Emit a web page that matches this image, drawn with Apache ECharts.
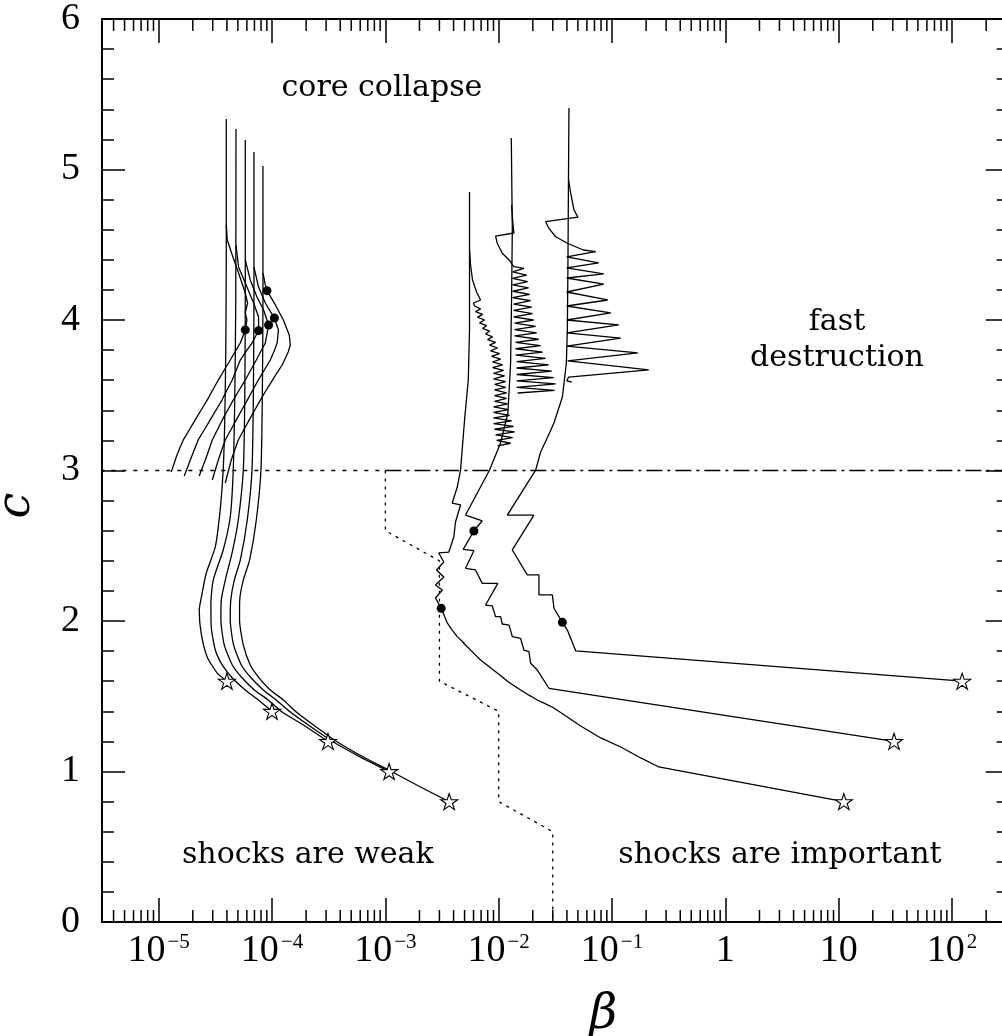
<!DOCTYPE html>
<html>
<head>
<meta charset="utf-8">
<script src="https://cdn.jsdelivr.net/npm/echarts@6/dist/echarts.min.js"></script>
<style>
  html, body { margin: 0; padding: 0; background: #fff; }
  #chart { width: 1002px; height: 1036px; }
</style>
</head>
<body>
<div id="chart"></div>
<script>
// Axis ranges
const BETA_MIN = 3.1623e-6;
const BETA_MAX = 316.23;
const C_MIN = 0;
const C_MAX = 6;

// Minor tick positions on the log beta axis (2..9 of each decade)
const betaMinorTicks = [
  4e-6, 5e-6, 6e-6, 7e-6, 8e-6, 9e-6,
  2e-5, 3e-5, 4e-5, 5e-5, 6e-5, 7e-5, 8e-5, 9e-5,
  2e-4, 3e-4, 4e-4, 5e-4, 6e-4, 7e-4, 8e-4, 9e-4,
  2e-3, 3e-3, 4e-3, 5e-3, 6e-3, 7e-3, 8e-3, 9e-3,
  2e-2, 3e-2, 4e-2, 5e-2, 6e-2, 7e-2, 8e-2, 9e-2,
  0.2, 0.3, 0.4, 0.5, 0.6, 0.7, 0.8, 0.9,
  2, 3, 4, 5, 6, 7, 8, 9,
  20, 30, 40, 50, 60, 70, 80, 90,
  200, 300
];

// Low-beta models: tracks from the starting star up to core collapse  [beta, c]
const trackL1 = [[4.0e-5,1.60],[3.29e-5,1.654],[2.68e-5,1.761],[2.37e-5,1.920],[2.28e-5,2.073],[2.42e-5,2.186],[2.63e-5,2.319],[3.16e-5,2.492],[3.49e-5,2.738],[3.71e-5,3.003],[3.83e-5,3.336],[3.91e-5,3.801],[3.95e-5,4.465],[3.95e-5,5.336]];
const trackL2 = [[1.0e-4,1.40],[7.57e-5,1.475],[5.81e-5,1.542],[4.46e-5,1.621],[3.64e-5,1.708],[3.16e-5,1.807],[2.91e-5,1.960],[2.89e-5,2.120],[3.03e-5,2.272],[3.71e-5,2.472],[4.28e-5,2.691],[4.55e-5,3.003],[4.69e-5,3.468],[4.79e-5,4.133],[4.81e-5,5.269]];
const trackL3 = [[3.12e-4,1.20],[1.89e-4,1.309],[1.23e-4,1.395],[9.27e-5,1.475],[6.98e-5,1.542],[5.47e-5,1.621],[4.46e-5,1.708],[3.79e-5,1.841],[3.54e-5,2.007],[3.57e-5,2.140],[3.87e-5,2.272],[4.46e-5,2.458],[5.04e-5,2.671],[5.58e-5,3.003],[5.75e-5,3.468],[5.81e-5,4.133],[5.81e-5,5.196]];
const trackL4 = [[1.08e-3,1.00],[6.03e-4,1.096],[3.48e-4,1.196],[2.09e-4,1.309],[1.45e-4,1.395],[1.09e-4,1.475],[8.38e-5,1.542],[6.56e-5,1.621],[5.36e-5,1.708],[4.58e-5,1.841],[4.28e-5,2.007],[4.33e-5,2.140],[4.65e-5,2.272],[5.25e-5,2.405],[6.05e-5,2.671],[6.66e-5,3.003],[6.84e-5,3.468],[6.93e-5,4.133],[6.93e-5,5.116]];
const trackL5 = [[3.66e-3,0.80],[2.04e-3,0.897],[1.155e-3,0.997],[6.41e-4,1.096],[3.78e-4,1.196],[2.32e-4,1.309],[1.64e-4,1.395],[1.26e-4,1.475],[9.66e-5,1.542],[7.72e-5,1.621],[6.43e-5,1.708],[5.58e-5,1.841],[5.17e-5,2.007],[5.19e-5,2.140],[5.58e-5,2.272],[6.34e-5,2.405],[7.27e-5,2.671],[7.99e-5,3.003],[8.21e-5,3.468],[8.32e-5,4.133],[8.32e-5,5.023]];

// Low-beta models: wiggly branches down to c = 3
const branchL1 = [[3.95e-5,4.631],[4.03e-5,4.532],[4.46e-5,4.432],[5.07e-5,4.312],[5.81e-5,4.179],[6.09e-5,4.113],[5.81e-5,4.047],[6.01e-5,4.000],[5.81e-5,3.934],[5.25e-5,3.847],
  [4.74e-5,3.791],[4.91e-5,3.781],[4.28e-5,3.734],[3.79e-5,3.668],[3.92e-5,3.658],[3.36e-5,3.601],[3.00e-5,3.535],[3.11e-5,3.525],
  [2.68e-5,3.468],[2.37e-5,3.402],[2.45e-5,3.392],[2.10e-5,3.336],[1.86e-5,3.269],[1.93e-5,3.259],[1.65e-5,3.203],
  [1.53e-5,3.146],[1.58e-5,3.136],[1.43e-5,3.090],[1.36e-5,3.040],[1.41e-5,3.030],[1.29e-5,2.990]];
const branchL2 = [[4.81e-5,4.498],[5.07e-5,4.352],[6.01e-5,4.219],[6.88e-5,4.113],[7.61e-5,4.020],[7.61e-5,3.929],[6.66e-5,3.847],
  [5.90e-5,3.791],[6.11e-5,3.781],[5.25e-5,3.734],[4.84e-5,3.668],[5.01e-5,3.658],[4.46e-5,3.601],[4.01e-5,3.535],[4.15e-5,3.525],
  [3.62e-5,3.468],[3.21e-5,3.402],[3.32e-5,3.392],[2.85e-5,3.336],[2.52e-5,3.269],[2.61e-5,3.259],[2.23e-5,3.203],
  [2.06e-5,3.136],[2.13e-5,3.126],[1.90e-5,3.070],[1.79e-5,3.017],[1.85e-5,3.007],[1.68e-5,2.963]];
const branchL3 = [[5.81e-5,4.399],[6.43e-5,4.266],[7.37e-5,4.153],[8.43e-5,4.066],[9.33e-5,3.967],[8.73e-5,3.847],
  [7.96e-5,3.791],[8.24e-5,3.781],[7.27e-5,3.734],[6.50e-5,3.668],[6.73e-5,3.658],[5.81e-5,3.601],[5.14e-5,3.535],[5.32e-5,3.525],
  [4.55e-5,3.468],[4.07e-5,3.402],[4.21e-5,3.392],[3.64e-5,3.336],[3.29e-5,3.269],[3.41e-5,3.259],[2.97e-5,3.203],
  [2.77e-5,3.136],[2.87e-5,3.126],[2.58e-5,3.070],[2.42e-5,3.017],[2.50e-5,3.007],[2.28e-5,2.963]];
const branchL4 = [[6.93e-5,4.352],[7.61e-5,4.219],[8.73e-5,4.113],[1.05e-4,4.013],[1.14e-4,3.934],[1.11e-4,3.847],
  [1.04e-4,3.791],[1.08e-4,3.781],[9.66e-5,3.734],[8.55e-5,3.668],[8.85e-5,3.658],[7.57e-5,3.601],[6.77e-5,3.535],[7.01e-5,3.525],
  [6.05e-5,3.468],[5.41e-5,3.402],[5.60e-5,3.392],[4.84e-5,3.336],[4.33e-5,3.269],[4.48e-5,3.259],[3.87e-5,3.203],
  [3.60e-5,3.136],[3.73e-5,3.126],[3.36e-5,3.070],[3.16e-5,3.003],[3.27e-5,2.993],[2.97e-5,2.937]];
const branchL5 = [[8.33e-5,4.312],[8.73e-5,4.233],[9.03e-5,4.195],[1.07e-4,4.100],[1.26e-4,4.000],[1.42e-4,3.900],[1.45e-4,3.834],[1.39e-4,3.787],[1.23e-4,3.701],
  [1.11e-4,3.651],[1.15e-4,3.641],[1.01e-4,3.601],[8.91e-5,3.535],[9.22e-5,3.525],[7.88e-5,3.468],[7.05e-5,3.402],[7.30e-5,3.392],
  [6.30e-5,3.336],[5.63e-5,3.269],[5.83e-5,3.259],[5.04e-5,3.203],[4.69e-5,3.136],[4.85e-5,3.126],[4.37e-5,3.070],
  [4.11e-5,2.993],[4.25e-5,2.983],[3.87e-5,2.917]];

// High-beta models: main tracks
const trackA = [[11.1,0.80],[0.2585,1.030],[0.1793,1.090],[0.1194,1.163],[7.95e-2,1.223],[5.29e-2,1.302],[3.07e-2,1.422],
  [2.596e-2,1.449],[2.70e-2,1.439],[2.19e-2,1.475],[1.849e-2,1.508],[1.93e-2,1.498],[1.56e-2,1.542],[1.382e-2,1.568],[1.44e-2,1.558],
  [1.22e-2,1.595],[1.089e-2,1.625],[1.135e-2,1.615],[9.72e-3,1.654],[8.19e-3,1.698],[8.53e-3,1.688],[6.92e-3,1.741],
  [6.04e-3,1.785],[6.29e-3,1.775],[5.28e-3,1.829],[4.77e-3,1.862],[4.97e-3,1.852],[4.31e-3,1.896],[3.89e-3,1.940],[4.05e-3,1.930],
  [3.52e-3,1.987],[3.11e-3,2.084],[2.77e-3,2.153],[3.18e-3,2.206],[2.77e-3,2.239],[3.28e-3,2.292],[2.83e-3,2.339],[3.28e-3,2.392],[2.96e-3,2.452],[3.63e-3,2.458],[4.02e-3,2.558],[4.16e-3,2.658],[4.61e-3,2.771],[3.89e-3,2.784],[4.31e-3,2.890],[4.61e-3,3.003],[5.00e-3,3.336],[5.39e-3,3.601],[5.53e-3,3.934],[5.53e-3,4.379],[5.53e-3,4.850]];
const trackB = [[30.8,1.20],[2.777e-2,1.553],[2.193e-2,1.674],[1.913e-2,1.719],[1.849e-2,1.796],[1.669e-2,1.807],[1.561e-2,1.885],[1.319e-2,1.896],[1.235e-2,1.973],[1.076e-2,1.980],[1.039e-2,2.029],[9.39e-3,2.029],[8.78e-3,2.100],[7.66e-3,2.106],[9.83e-3,2.250],[7.16e-3,2.250],[6.25e-3,2.339],[5.10e-3,2.350],[6.04e-3,2.467],[4.87e-3,2.476],[6.04e-3,2.598],[7.16e-3,2.666],[5.10e-3,2.704],[8.31e-3,3.003],[1.039e-2,3.183],[1.206e-2,3.382],[1.274e-2,3.714],[1.300e-2,4.153],[1.319e-2,4.598],[1.292e-2,5.209]];
const trackC = [[122.8,1.60],[4.779e-2,1.802],[4.036e-2,1.940],[3.647e-2,1.991],[3.074e-2,2.085],[2.976e-2,2.174],[2.266e-2,2.174],[2.266e-2,2.307],[1.789e-2,2.307],[1.319e-2,2.472],[2.046e-2,2.704],[1.191e-2,2.704],[2.119e-2,3.003],[2.345e-2,3.123],[2.704e-2,3.223],[3.074e-2,3.316],[3.647e-2,3.488],[3.955e-2,3.714],[4.036e-2,3.934],[4.086e-2,4.379],[4.119e-2,4.817],[4.170e-2,5.409]];

// High-beta models: oscillating branches
const branchA = [[5.53e-3,4.465],[5.65e-3,4.365],[5.88e-3,4.266],[6.38e-3,4.186],[6.92e-3,4.133],[6.00e-3,4.113],
  [6.12e-3,4.093],[6.92e-3,4.074],[6.25e-3,4.056],[7.21e-3,4.037],[6.51e-3,4.019],[7.50e-3,4.000],
  [6.78e-3,3.981],[7.82e-3,3.963],[7.21e-3,3.944],[8.31e-3,3.926],[7.66e-3,3.907],[8.83e-3,3.888],
  [7.98e-3,3.870],[9.39e-3,3.851],[8.31e-3,3.833],[9.77e-3,3.814],[8.48e-3,3.795],[1.018e-2,3.777],
  [8.65e-3,3.758],[1.039e-2,3.740],[8.83e-3,3.721],[1.082e-2,3.702],[8.83e-3,3.684],[1.105e-2,3.665],
  [9.01e-3,3.646],[1.127e-2,3.628],[9.01e-3,3.609],[1.151e-2,3.591],[9.20e-3,3.572],[1.151e-2,3.553],
  [9.20e-3,3.535],[1.174e-2,3.516],[9.20e-3,3.498],[1.174e-2,3.479],[9.20e-3,3.460],[1.198e-2,3.442],
  [9.01e-3,3.423],[1.223e-2,3.405],[9.01e-3,3.386],[1.248e-2,3.367],[9.01e-3,3.349],[1.300e-2,3.330],
  [9.01e-3,3.312],[1.354e-2,3.293],[9.20e-3,3.274],[1.382e-2,3.256],[9.39e-3,3.237],[1.327e-2,3.219],
  [9.58e-3,3.200],[1.274e-2,3.181],[9.77e-3,3.163]];
const branchB = [[1.300e-2,4.764],[1.327e-2,4.664],[1.362e-2,4.578],[9.39e-3,4.558],[9.72e-3,4.510],[1.076e-2,4.443],[1.235e-2,4.399],[1.362e-2,4.354],[1.669e-2,4.343],
  [1.327e-2,4.319],[1.764e-2,4.298],[1.327e-2,4.276],[1.800e-2,4.255],[1.327e-2,4.234],[1.837e-2,4.213],
  [1.327e-2,4.191],[1.875e-2,4.170],[1.327e-2,4.149],[1.913e-2,4.128],[1.354e-2,4.106],[1.953e-2,4.085],
  [1.354e-2,4.064],[1.993e-2,4.043],[1.354e-2,4.021],[2.034e-2,4.000],[1.382e-2,3.979],[2.119e-2,3.957],
  [1.382e-2,3.936],[2.162e-2,3.915],[1.382e-2,3.894],[2.252e-2,3.872],[1.410e-2,3.851],[2.345e-2,3.830],
  [1.410e-2,3.809],[2.442e-2,3.787],[1.410e-2,3.766],[2.596e-2,3.745],[1.439e-2,3.724],[2.760e-2,3.702],
  [1.439e-2,3.681],[2.933e-2,3.660],[1.439e-2,3.638],[3.055e-2,3.617],[1.439e-2,3.596],[3.182e-2,3.575],
  [1.439e-2,3.553],[3.118e-2,3.532],[1.469e-2,3.515]];
const branchC = [[4.144e-2,4.930],[4.316e-2,4.844],[4.616e-2,4.732],[5.008e-2,4.683],[2.596e-2,4.653],[2.777e-2,4.609],[3.182e-2,4.553],[4.036e-2,4.510],[5.590e-2,4.465],[7.179e-2,4.454],
  [3.979e-2,4.419],[7.630e-2,4.379],[3.979e-2,4.346],[8.446e-2,4.306],[3.979e-2,4.279],[8.446e-2,4.239],
  [3.979e-2,4.186],[9.163e-2,4.133],[3.979e-2,4.093],[9.739e-2,4.047],[3.979e-2,4.000],[0.1146,3.967],
  [3.979e-2,3.914],[0.1194,3.880],[3.979e-2,3.827],[0.1687,3.781],[4.061e-2,3.728],[0.2110,3.668],
  [4.144e-2,3.621],[3.979e-2,3.595],[4.405e-2,3.588]];

// Markers
const startStars = [[4.0e-5,1.6],[1.0e-4,1.4],[3.12e-4,1.2],[1.08e-3,1.0],[3.66e-3,0.8],[11.1,0.8],[30.8,1.2],[122.8,1.6]];
const eventDots = [[5.81e-5,3.934],[7.61e-5,3.929],[9.33e-5,3.967],[1.05e-4,4.013],[9.03e-5,4.195],[3.11e-3,2.084],[6.04e-3,2.598],[3.647e-2,1.991]];

// Regime boundaries
const shockBoundary = [[1e-3,3.0],[1e-3,2.6],[3e-3,2.4],[3e-3,1.6],[1e-2,1.4],[1e-2,0.8],[3e-2,0.6],[3e-2,0]];
const collapseLineLeft = [[1e-6,3.0],[1e-3,3.0]];
const collapseLineRight = [[1e-3,3.0],[1e3,3.0]];

// Region captions  [beta, c, text]
const regionLabels = [
  [9.33e-4, 5.54, 'core collapse'],
  [9.66, 3.867, 'fast\ndestruction'],
  [2.07e-4, 0.445, 'shocks are weak'],
  [3.03, 0.445, 'shocks are important']
];

const INK = '#000';
const TICK_FONT = 'Liberation Serif';
const TEXT_FONT = 'DejaVu Serif';
const STAR = 'path://M50,0L61.2,34.5L97.6,34.5L68.2,55.9L79.4,90.5L50,69.1L20.6,90.5L31.8,55.9L2.4,34.5L38.8,34.5Z';

function curve(data, smooth) {
  return {
    type: 'line', data: data, symbol: 'none', showSymbol: false,
    smooth: smooth || false, clip: true, silent: true, z: 3,
    lineStyle: { color: INK, width: 1.3, opacity: 1 }
  };
}
function dashed(data, pattern, width) {
  return {
    type: 'line', data: data, symbol: 'none', showSymbol: false, clip: true, silent: true, z: 2,
    lineStyle: { color: INK, width: width || 1.3, type: pattern, opacity: 1 }
  };
}

function betaLabel(v) {
  const e = Math.round(Math.log10(v));
  if (e === 0) return '{b|1}';
  if (e === 1) return '{b|10}';
  return '{b|10}{s|' + (e < 0 ? '\u2212' + (-e) : String(e)) + '}';
}

const xAxisBase = {
  type: 'log', logBase: 10, min: BETA_MIN, max: BETA_MAX,
  splitLine: { show: false },
  axisLine: { show: true, onZero: false, lineStyle: { color: INK, width: 2 } },
  axisTick: { show: true, inside: true, length: 24, lineStyle: { color: INK, width: 1.5 } },
  minorTick: { show: false }
};
const yAxisBase = {
  type: 'value', min: C_MIN, max: C_MAX, interval: 1,
  splitLine: { show: false },
  axisLine: { show: true, onZero: false, lineStyle: { color: INK, width: 2 } },
  axisTick: { show: true, inside: true, length: 23, lineStyle: { color: INK, width: 1.5 } },
  minorTick: { show: true, splitNumber: 5, length: 12, lineStyle: { color: INK, width: 1.5 } },
  minorSplitLine: { show: false }
};

const chart = echarts.init(document.getElementById('chart'), null, { renderer: 'canvas' });

const option = {
  animation: false,
  backgroundColor: '#fff',
  grid: { left: 102, top: 19, right: -6.7, bottom: 114, containLabel: false, outerBoundsMode: 'none' },
  xAxis: [
    Object.assign({}, xAxisBase, {
      position: 'bottom',
      name: '\u03b2', nameLocation: 'middle', nameGap: 70,
      nameTextStyle: { fontFamily: TEXT_FONT, fontStyle: 'italic', fontSize: 48, color: INK, padding: [0, 0, 0, 96] },
      axisLabel: {
        show: true, margin: 10, showMinLabel: false, showMaxLabel: false,
        formatter: betaLabel,
        rich: {
          b: { fontFamily: TICK_FONT, fontSize: 38, color: INK },
          s: { fontFamily: TICK_FONT, fontSize: 21, color: INK, verticalAlign: 'top', padding: [0, 0, 0, 2] }
        }
      }
    }),
    Object.assign({}, xAxisBase, { position: 'top', axisLabel: { show: false } })
  ],
  yAxis: [
    Object.assign({}, yAxisBase, {
      position: 'left',
      name: 'c', nameLocation: 'middle', nameGap: 62, nameRotate: 90,
      nameTextStyle: { fontFamily: TEXT_FONT, fontStyle: 'italic', fontSize: 46, color: INK, padding: [0, 70, 0, 0] },
      axisLabel: { show: true, margin: 22, fontFamily: TICK_FONT, fontSize: 38, color: INK }
    }),
    Object.assign({}, yAxisBase, { position: 'right', axisLabel: { show: false } })
  ],
  series: [
    // minor ticks of the log axis, drawn on the bottom and top frame
    {
      type: 'custom', silent: true, clip: false, z: 5,
      data: betaMinorTicks.map(function (v) { return [v, C_MIN]; }),
      renderItem: function (params, api) {
        const lo = api.coord([api.value(0), C_MIN]);
        const hi = api.coord([api.value(0), C_MAX]);
        const st = { stroke: INK, lineWidth: 1.5 };
        return {
          type: 'group',
          children: [
            { type: 'line', shape: { x1: lo[0], y1: lo[1], x2: lo[0], y2: lo[1] - 12 }, style: st },
            { type: 'line', shape: { x1: hi[0], y1: hi[1], x2: hi[0], y2: hi[1] + 12 }, style: st }
          ]
        };
      }
    },
    dashed(collapseLineLeft, [4, 7]),
    dashed(collapseLineRight, [16, 5, 3, 5]),
    dashed(shockBoundary, [3, 5]),
    curve(trackL1, 0.2), curve(trackL2, 0.2), curve(trackL3, 0.2), curve(trackL4, 0.2), curve(trackL5, 0.2),
    curve(branchL1), curve(branchL2), curve(branchL3), curve(branchL4), curve(branchL5),
    curve(trackA), curve(trackB), curve(trackC),
    curve(branchA), curve(branchB), curve(branchC),
    {
      type: 'scatter', data: eventDots, symbol: 'circle', symbolSize: 9, silent: true, z: 6,
      itemStyle: { color: INK, opacity: 1 }
    },
    {
      type: 'scatter', data: startStars, symbol: STAR, symbolSize: [17, 16], silent: true, z: 7,
      itemStyle: { color: '#fff', borderColor: INK, borderWidth: 1.1, opacity: 1 }
    },
    {
      type: 'scatter', silent: true, z: 8, symbolSize: 1,
      itemStyle: { color: '#fff', opacity: 1 },
      data: regionLabels.map(function (r) { return { value: [r[0], r[1]], name: r[2] }; }),
      label: {
        show: true, position: 'inside', formatter: '{b}', opacity: 1,
        fontFamily: TEXT_FONT, fontSize: 30, lineHeight: 36, color: INK, align: 'center',
        textBorderWidth: 0
      }
    }
  ]
};

chart.setOption(option);
</script>
</body>
</html>
